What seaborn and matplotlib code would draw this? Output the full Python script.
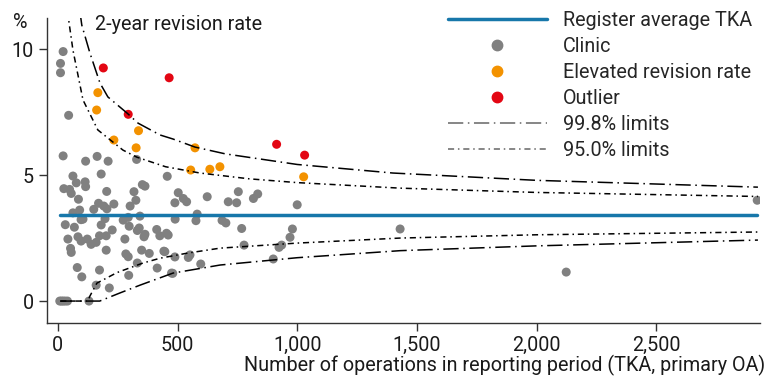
import matplotlib
matplotlib.use("Agg")
import pandas as pd
import matplotlib.pyplot as plt
import matplotlib.ticker as ticker
from matplotlib.lines import Line2D
from matplotlib.legend_handler import HandlerLine2D
from matplotlib import font_manager
import seaborn as sns

# clinics: number of operations vs 2-year revision rate (%)
clinic_n = [22, 11, 11, 45, 22, 116, 164, 210, 329, 181, 63, 77, 114, 116, 25, 49, 56,
            204, 86, 170, 192, 234, 150, 205, 63, 91, 105, 197, 97, 31, 69, 181, 227,
            42, 84, 123, 174, 202, 97, 139, 160, 53, 56, 202, 81, 174, 100, 160, 215,
            8, 15, 22, 30, 40, 130,
            353, 364, 318, 326, 302, 273, 294, 343, 280, 298, 332, 364, 413, 426, 454,
            490, 284, 294, 350, 382, 332, 296, 415, 447, 475, 489, 457, 503, 524, 538,
            489, 624, 754, 712, 747, 582, 577, 686, 702, 768, 340, 461, 360, 443, 552,
            545, 597, 480, 778, 817, 835, 1000, 980, 970, 935, 924, 900, 1430, 2124, 2922]
clinic_rate = [9.9, 9.43, 9.06, 7.37, 5.76, 5.55, 5.74, 5.55, 5.62, 5.04, 4.96, 4.69, 4.73,
               4.54, 4.46, 4.43, 4.27, 4.35, 4.04, 3.88, 3.77, 3.85, 3.64, 3.66, 3.5, 3.61,
               3.25, 3.27, 3.23, 3.03, 2.93, 3.02, 2.82, 2.46, 2.55, 2.46, 2.59, 2.59, 2.38,
               2.25, 2.33, 2.09, 1.93, 2.02, 1.33, 1.23, 0.96, 0.63, 0.52,
               0, 0, 0, 0, 0, 0,
               4.62, 4.56, 4.34, 4.0, 3.77, 3.21, 3.32, 3.37, 2.46, 2.97, 2.8, 2.65, 2.84,
               2.59, 2.69, 3.25, 1.87, 1.76, 2.02, 1.89, 1.51, 1.02, 1.31, 1.96, 1.11, 1.75,
               4.95, 4.3, 4.07, 3.94, 3.9, 4.14, 4.34, 3.94, 3.9, 3.45, 3.19, 3.2, 3.1, 2.88,
               2.9, 2.62, 2.55, 1.98, 1.83, 1.73, 1.47, 1.1, 2.22, 4.07, 4.25, 3.82, 2.86,
               2.53, 2.22, 2.13, 1.67, 2.86, 1.15, 4.0]

elevated_n = [167, 162, 337, 234, 327, 573, 555, 635, 677, 1027]
elevated_rate = [8.27, 7.58, 6.76, 6.39, 6.08, 6.08, 5.2, 5.23, 5.33, 4.93]

outlier_n = [190, 465, 294, 914, 1031]
outlier_rate = [9.25, 8.86, 7.41, 6.22, 5.79]

register_avg = 3.43

# control limits
up998_n = [92, 100, 134, 176, 209, 289, 335, 427, 481, 573, 700, 1000, 1400, 2000, 2925]
up998 = [11.5, 10.95, 9.84, 8.65, 8.1, 7.46, 7.06, 6.59, 6.43, 6.11, 5.84, 5.42, 5.08, 4.79, 4.52]
up950_n = [40, 63, 105, 167, 272, 330, 450, 594, 800, 1000, 1431, 2000, 2925]
up950 = [11.5, 9.96, 7.98, 6.79, 5.99, 5.71, 5.33, 5.08, 4.85, 4.7, 4.48, 4.31, 4.15]
lo950_n = [10, 125, 134, 163, 247, 356, 427, 540, 678, 1000, 1431, 2000, 2925]
lo950 = [0, 0, 0.2, 0.71, 1.13, 1.51, 1.7, 1.9, 2.1, 2.3, 2.5, 2.63, 2.74]
lo998_n = [10, 175, 259, 343, 481, 678, 1000, 1431, 2000, 2925]
lo998 = [0, 0, 0.32, 0.63, 1.11, 1.43, 1.72, 2.0, 2.19, 2.42]

GREY, ORANGE, RED, BLUE = "#808080", "#f39200", "#e30613", "#1777aa"
DASH998 = (0, (10, 3, 1, 3))
DASH950 = (0, (4, 2.5, 1, 2.5))

df = pd.concat([
    pd.DataFrame({"n": clinic_n, "rate": clinic_rate, "group": "Clinic"}),
    pd.DataFrame({"n": elevated_n, "rate": elevated_rate, "group": "Elevated revision rate"}),
    pd.DataFrame({"n": outlier_n, "rate": outlier_rate, "group": "Outlier"}),
])

sns.set_theme(style="ticks")
avail = {f.name for f in font_manager.fontManager.ttflist}
font = "Liberation Sans Narrow" if "Liberation Sans Narrow" in avail else "Roboto"
plt.rcParams["font.family"] = [font, "DejaVu Sans"]
FS = 14.2

fig = plt.figure(figsize=(7.68, 3.76), dpi=100)
ax = fig.add_axes([0.061, 0.141, 0.929, 0.811])

sns.scatterplot(data=df, x="n", y="rate", hue="group",
                palette={"Clinic": GREY, "Elevated revision rate": ORANGE, "Outlier": RED},
                s=42, linewidth=0, legend=False, ax=ax, zorder=2)

ax.plot(up998_n, up998, color="black", lw=1.1, ls=DASH998, zorder=3)
ax.plot(lo998_n, lo998, color="black", lw=1.1, ls=DASH998, zorder=3)
ax.plot(up950_n, up950, color="black", lw=1.1, ls=DASH950, zorder=3)
ax.plot(lo950_n, lo950, color="black", lw=1.1, ls=DASH950, zorder=3)

all_n = clinic_n + elevated_n + outlier_n
ax.plot([min(all_n), max(all_n)], [register_avg, register_avg], color=BLUE, lw=2.5, zorder=4)

ax.set_xlim(-46, 2935)
ax.set_ylim(-0.87, 11.23)
ax.set_xticks([0, 500, 1000, 1500, 2000, 2500])
ax.set_yticks([0, 5, 10])
ax.xaxis.set_major_formatter(ticker.StrMethodFormatter("{x:,.0f}"))
ax.tick_params(axis="both", direction="out", length=6, width=1, color="#333333",
               labelsize=FS, labelcolor="#1a1a1a")
ax.set_xlabel("")
ax.set_ylabel("")
sns.despine(ax=ax)
for sp in ["left", "bottom"]:
    ax.spines[sp].set_color("#333333")
    ax.spines[sp].set_linewidth(1)

ax.text(0.067, 0.978, "2-year revision rate", transform=ax.transAxes,
        ha="left", va="center", fontsize=FS, color="#1a1a1a")
fig.text(0.026, 0.94, "%", ha="center", va="center", fontsize=FS, color="#1a1a1a")
fig.text(0.996, 0.027, "Number of operations in reporting period (TKA, primary OA)",
         ha="right", va="center", fontsize=FS, color="#1a1a1a")


class RightMarker(HandlerLine2D):
    def get_xdata(self, legend, xdescent, ydescent, width, height, fontsize):
        xd, _ = super().get_xdata(legend, xdescent, ydescent, width, height, fontsize)
        return xd, [-xdescent + width * 0.94]


handles = [
    Line2D([], [], color=BLUE, lw=2.5),
    Line2D([], [], ls="none", marker="o", color=GREY, markersize=7.5),
    Line2D([], [], ls="none", marker="o", color=ORANGE, markersize=7.5),
    Line2D([], [], ls="none", marker="o", color=RED, markersize=7.5),
    Line2D([], [], color="#666666", lw=1.1, ls=DASH998),
    Line2D([], [], color="#666666", lw=1.1, ls=DASH950),
]
labels = ["Register average TKA", "Clinic", "Elevated revision rate", "Outlier",
          "99.8% limits", "95.0% limits"]
hmap = {h: RightMarker() for h in handles[1:4]}
fig.legend(handles, labels, loc="upper left", bbox_to_anchor=(448 / 768, 0.972),
           bbox_transform=fig.transFigure, frameon=False, fontsize=FS,
           handlelength=5.0, handletextpad=0.85, labelspacing=0.36,
           borderpad=0, borderaxespad=0, handler_map=hmap)

fig.savefig("out.png", dpi=100)
